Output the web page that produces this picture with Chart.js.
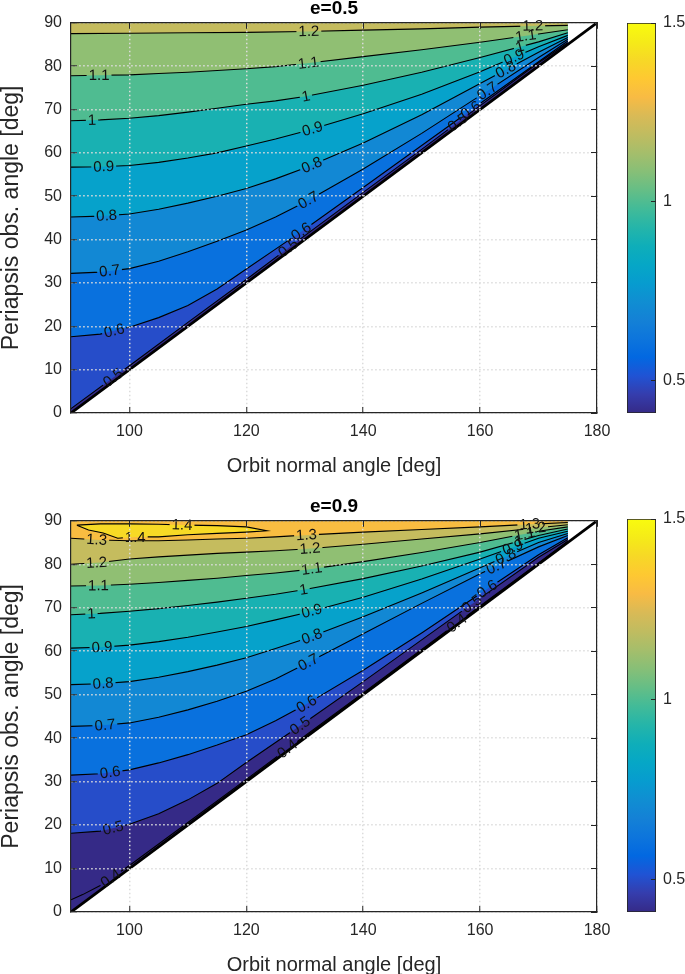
<!DOCTYPE html>
<html>
<head>
<meta charset="utf-8">
<script src="https://cdn.jsdelivr.net/npm/chart.js@4.4.1/dist/chart.umd.min.js"></script>
<style>
  body { margin: 0; background: #fff; width: 685px; height: 974px; position: relative; overflow: hidden; }
  canvas { position: absolute; }
</style>
</head>
<body>
<canvas id="panelA" width="615" height="493" style="left:0;top:-3px"></canvas>
<canvas id="barA" width="65" height="420" style="left:620px;top:0"></canvas>
<canvas id="panelB" width="615" height="494" style="left:0;top:495px"></canvas>
<canvas id="barB" width="65" height="423" style="left:620px;top:496px"></canvas>
<script>
const xTicks = [100, 120, 140, 160, 180];
const yTicks = [0, 10, 20, 30, 40, 50, 60, 70, 80, 90];
const colorTicks = [0.5, 1, 1.5];
const colorRange = [0.41, 1.5];
const diagonal = [[90, 0], [180, 90]];
const dataEdge = [[90, 0], [175, 85], [175, 90], [90, 90]];

// e = 0.5 contour lines: [orbit normal angle, periapsis obs. angle]
const e05_05 = [[90,1.0],[100,10.9],[110,20.9],[120,30.8],[130,40.9],[140,50.9],[150,60.8],[160,70.9],[170,80.8],[175,85.4]];
const e05_06 = [[90,17.6],[95,18.2],[100,19.8],[105,22.0],[110,24.8],[115,28.6],[120,33.2],[125,37.8],[130,42.4],[140,52.0],[150,61.7],[160,71.4],[170,81.0],[175,85.8]];
const e05_07 = [[90,32.2],[95,32.5],[100,33.3],[105,35.0],[110,37.2],[115,39.6],[120,42.2],[125,45.2],[130,48.6],[140,56.3],[150,64.5],[160,73.2],[170,82.0],[175,86.2]];
const e05_08 = [[90,45.2],[95,45.4],[100,45.9],[105,47.0],[110,48.4],[115,50.0],[120,51.8],[125,54.0],[130,56.5],[140,62.3],[150,68.8],[160,76.0],[170,83.2],[175,86.6]];
const e05_09 = [[90,56.7],[95,56.8],[100,57.1],[105,57.8],[110,58.8],[115,60.0],[120,61.6],[125,63.2],[130,65.0],[140,69.0],[150,73.5],[160,78.7],[170,84.5],[175,87.1]];
const e05_10 = [[90,67.4],[95,67.6],[100,68.0],[105,68.6],[110,69.4],[115,70.3],[120,71.2],[125,72.0],[130,73.0],[140,75.6],[150,78.6],[160,82.0],[170,85.6],[175,87.7]];
const e05_11 = [[90,77.8],[95,77.9],[100,78.0],[105,78.3],[110,78.6],[115,79.0],[120,79.4],[125,79.9],[130,80.6],[140,82.2],[150,83.8],[160,85.5],[170,87.4],[175,88.4]];
const e05_12 = [[90,87.5],[100,87.6],[110,87.7],[120,87.8],[130,88.0],[140,88.3],[150,88.6],[160,89.0],[170,89.3],[175,89.4]];

// e = 0.9 contour lines
const e09_04 = [[90,2.8],[92,4.0],[95,6.1],[100,10.7],[110,20.6],[120,30.5],[130,40.5],[140,50.4],[150,60.4],[160,70.4],[170,80.3],[175,85.3]];
const e09_05 = [[90,18.1],[95,18.6],[100,20.2],[105,22.6],[110,25.8],[115,29.6],[120,34.4],[125,39.0],[130,43.6],[140,53.0],[150,62.6],[160,72.2],[170,81.6],[175,85.7]];
const e09_06 = [[90,31.5],[95,31.8],[100,32.7],[105,34.3],[110,36.2],[115,38.4],[120,40.8],[125,44.0],[130,47.6],[140,55.6],[150,64.2],[160,73.2],[170,82.2],[175,86.1]];
const e09_07 = [[90,42.7],[95,42.9],[100,43.5],[105,44.8],[110,46.5],[115,48.5],[120,50.8],[125,53.6],[130,57.0],[140,64.0],[150,71.0],[160,77.8],[170,84.0],[175,86.6]];
const e09_08 = [[90,52.3],[95,52.5],[100,53.0],[105,54.0],[110,55.3],[115,56.8],[120,58.5],[125,60.6],[130,62.8],[140,67.9],[150,73.4],[160,79.2],[170,85.0],[175,87.1]];
const e09_09 = [[90,60.7],[95,60.9],[100,61.4],[105,62.2],[110,63.2],[115,64.4],[120,65.7],[125,67.2],[130,68.8],[140,72.4],[150,76.6],[160,81.2],[170,86.0],[175,87.6]];
const e09_10 = [[90,68.4],[95,68.7],[100,69.2],[105,69.8],[110,70.5],[115,71.3],[120,72.2],[125,73.1],[130,74.2],[140,76.7],[150,79.6],[160,82.8],[170,86.6],[175,88.1]];
const e09_11 = [[90,75.0],[95,75.1],[100,75.4],[105,75.8],[110,76.3],[115,76.8],[120,77.4],[125,78.0],[130,78.7],[140,80.6],[150,82.7],[160,85.0],[170,87.6],[175,88.6]];
const e09_12 = [[90,80.0],[95,80.4],[100,81.2],[105,81.7],[110,82.1],[115,82.5],[120,82.8],[125,83.1],[130,83.5],[140,84.6],[150,85.8],[160,87.0],[170,88.4],[175,89.1]];
const e09_13 = [[90,86.0],[95,85.6],[100,85.4],[105,85.4],[110,85.6],[115,85.8],[120,86.0],[125,86.3],[130,86.7],[140,87.4],[150,88.0],[160,88.6],[170,89.3],[175,89.6]];
const e09_14 = [[91,89.0],[95,89.3],[100,89.3],[105,89.2],[110,89.0],[115,88.9],[120,88.6],[123.5,87.7],[120,87.4],[115,87.1],[110,86.8],[105,86.3],[101,86.3],[98,86.0],[95.5,87.2],[93,87.9],[91,89.0]];

const e05Levels = [[0.5, e05_05], [0.6, e05_06], [0.7, e05_07], [0.8, e05_08], [0.9, e05_09], [1, e05_10], [1.1, e05_11], [1.2, e05_12]];
const e09Levels = [[0.4, e09_04], [0.5, e09_05], [0.6, e09_06], [0.7, e09_07], [0.8, e09_08], [0.9, e09_09], [1, e09_10], [1.1, e09_11], [1.2, e09_12], [1.3, e09_13], [1.4, e09_14]];

// inline labels: [level, orbit normal angle, crossing index]
const e05Labels = [[1.2,130.7],[1.2,169],[1.1,94.8],[1.1,130.6],[1.1,167.8],[1,93.6],[1,130.2],[1,166.8],
  [0.9,95.6],[0.9,131.3],[0.9,165.8],[0.8,96.1],[0.8,131.2],[0.8,164.4],[0.7,96.6],[0.7,130.6],[0.7,161.2],
  [0.6,97.4],[0.6,129.4],[0.6,158.4],[0.5,97.2],[0.5,127.2],[0.5,156.2]];
const e09Labels = [[1.4,109,0],[1.4,101,1],[1.3,94.4],[1.3,130.3],[1.3,168.5],[1.2,94.4],[1.2,130.9],[1.2,169.5],
  [1.1,94.7],[1.1,131.2],[1.1,167.6],[1,93.5],[1,129.8],[1,166.6],[0.9,95.3],[0.9,131.2],[0.9,165.6],
  [0.8,95.5],[0.8,131.2],[0.8,164.4],[0.7,95.8],[0.7,130.6],[0.7,162.8],[0.6,96.7],[0.6,130.3],[0.6,161.2],
  [0.5,97.2],[0.5,129.2],[0.5,158.6],[0.4,96.8],[0.4,127],[0.4,156]];

const FONT = "'Liberation Sans', Arial, Helvetica, sans-serif";
const axisColor = '#262626';
const gridColor = '#dcdcdc';

// parula colormap, every third entry
const parulaStops = [
  [0.2081,0.1663,0.5292],[0.2081,0.2386,0.6771],[0.1253,0.3242,0.8303],[0.0060,0.4086,0.8828],
  [0.0498,0.4586,0.8641],[0.0779,0.5040,0.8384],[0.0641,0.5570,0.8240],[0.0265,0.6137,0.8135],
  [0.0228,0.6535,0.7768],[0.0590,0.6838,0.7254],[0.1453,0.7098,0.6646],[0.2586,0.7317,0.5954],
  [0.3953,0.7459,0.5244],[0.5300,0.7491,0.4661],[0.6473,0.7456,0.4188],[0.7525,0.7384,0.3768],
  [0.8507,0.7299,0.3360],[0.9739,0.7314,0.2666],[0.9955,0.7861,0.1967],[0.9697,0.8481,0.1475],
  [0.9598,0.9218,0.0948],[0.9763,0.9831,0.0538]];

function parula(t) {
  t = Math.min(1, Math.max(0, t));
  const n = parulaStops.length;
  const f = t * (n - 1), i = Math.min(Math.floor(f), n - 2), u = f - i;
  const c = parulaStops[i].map((v, k) => Math.round(255 * (v + (parulaStops[i + 1][k] - v) * u)));
  return 'rgb(' + c.join(',') + ')';
}
const levelColor = v => parula((v - colorRange[0]) / (colorRange[1] - colorRange[0]));
const xy = pts => pts.map(p => ({ x: p[0], y: p[1] }));

function buildDatasets(levels) {
  const sets = [{ data: xy(dataEdge), fill: 'shape', backgroundColor: levelColor(colorRange[0]),
    borderColor: 'transparent', pointRadius: 0, order: 1000 }];
  levels.forEach(([level, pts], i) => {
    const last = pts[pts.length - 1];
    const closed = pts[0][0] === last[0] && pts[0][1] === last[1];
    const outline = closed ? pts : pts.concat([dataEdge[2], dataEdge[3]]);
    sets.push({ data: xy(outline), fill: 'shape', backgroundColor: levelColor(level),
      borderColor: 'transparent', pointRadius: 0, order: 500 - i });
    sets.push({ data: xy(pts), isoLine: true, level: level, borderColor: '#000', borderWidth: 1.1,
      pointRadius: 0, fill: false, order: 2 });
  });
  sets.push({ data: xy(diagonal), borderColor: '#000', borderWidth: 2.8, pointRadius: 0, fill: false, order: 1 });
  return sets;
}

function labelPlugin(levels, spots) {
  const place = chart => {
    const xs = chart.scales.x, ys = chart.scales.y, ctx = chart.ctx;
    ctx.font = '15px ' + FONT;
    return spots.map(([level, x, branch = 0]) => {
      const pts = levels.find(l => l[0] === level)[1];
      let hit = 0;
      for (let i = 0; i < pts.length - 1; i++) {
        const a = pts[i], b = pts[i + 1];
        if (a[0] === b[0] || (x - a[0]) * (x - b[0]) > 0) continue;
        if (hit++ < branch) continue;
        const y = a[1] + (x - a[0]) / (b[0] - a[0]) * (b[1] - a[1]);
        let ang = Math.atan2(ys.getPixelForValue(b[1]) - ys.getPixelForValue(a[1]),
                             xs.getPixelForValue(b[0]) - xs.getPixelForValue(a[0]));
        if (ang > Math.PI / 2) ang -= Math.PI;
        if (ang < -Math.PI / 2) ang += Math.PI;
        const text = String(level);
        return { level, text, px: xs.getPixelForValue(x), py: ys.getPixelForValue(y), ang,
                 w: ctx.measureText(text).width + 4, h: 13 };
      }
      return null;
    }).filter(Boolean);
  };
  return {
    id: 'contourLabels',
    beforeDatasetsDraw(chart) { chart.$labels = place(chart); },
    beforeDatasetDraw(chart, args) {
      const ds = chart.data.datasets[args.index];
      if (!ds.isoLine) return;
      const ctx = chart.ctx;
      ctx.save();
      ctx.beginPath();
      ctx.rect(0, 0, chart.width, chart.height);
      chart.$labels.filter(l => l.level === ds.level).forEach(l => {
        const c = Math.cos(l.ang), s = Math.sin(l.ang);
        [[-1, -1], [1, -1], [1, 1], [-1, 1]].forEach(([u, v], k) => {
          const px = l.px + u * l.w / 2 * c - v * l.h / 2 * s;
          const py = l.py + u * l.w / 2 * s + v * l.h / 2 * c;
          if (k) ctx.lineTo(px, py); else ctx.moveTo(px, py);
        });
        ctx.closePath();
      });
      ctx.clip('evenodd');
    },
    afterDatasetDraw(chart, args) {
      if (chart.data.datasets[args.index].isoLine) chart.ctx.restore();
    },
    afterDatasetsDraw(chart) {
      const ctx = chart.ctx;
      ctx.save();
      ctx.font = '15px ' + FONT;
      ctx.fillStyle = '#111';
      ctx.textAlign = 'center';
      ctx.textBaseline = 'middle';
      chart.$labels.forEach(l => {
        ctx.save();
        ctx.translate(l.px, l.py);
        ctx.rotate(l.ang);
        ctx.fillText(l.text, 0, 0.5);
        ctx.restore();
      });
      ctx.restore();
    }
  };
}

const tickList = arr => scale => { scale.ticks = arr.map(v => ({ value: v })); };
const fixHeight = h => s => { s.height = h; s.paddingLeft = 0; s.paddingRight = 0; };
const fixWidth = w => s => { s.width = w; s.paddingTop = 0; s.paddingBottom = 0; };

function makePanel(id, title, levels, spots) {
  const edgeGrid = { drawOnChartArea: false, tickLength: -6, tickColor: axisColor, tickWidth: 1, z: 1 };
  const border = { color: axisColor, width: 1.2, z: 2 };
  new Chart(document.getElementById(id), {
    type: 'line',
    data: { datasets: buildDatasets(levels) },
    plugins: [labelPlugin(levels, spots)],
    options: {
      responsive: false,
      animation: false,
      events: [],
      layout: { padding: { left: 0, right: 18, top: 0, bottom: 0 } },
      plugins: {
        legend: { display: false },
        tooltip: { enabled: false },
        title: { display: true, text: title, fullSize: false, color: '#000',
                 font: { family: FONT, size: 19, weight: 'bold' }, padding: { top: 0, bottom: 3 } }
      },
      scales: {
        x: {
          type: 'linear', position: 'bottom', min: 90, max: 180,
          afterBuildTicks: tickList(xTicks),
          afterFit: fixHeight(77),
          grid: { color: gridColor, lineWidth: 1.5, tickLength: -6, tickColor: axisColor, tickWidth: 1, z: 1 },
          border: { color: axisColor, width: 1.2, dash: [1.5, 2.5], z: 2 },
          ticks: { color: axisColor, padding: 15, maxRotation: 0, font: { family: FONT, size: 16 } },
          title: { display: true, text: 'Orbit normal angle [deg]', color: axisColor,
                   font: { family: FONT, size: 20 }, padding: { top: 0, bottom: 12 } }
        },
        y: {
          type: 'linear', position: 'left', min: 0, max: 90,
          afterBuildTicks: tickList(yTicks),
          afterFit: fixWidth(71),
          grid: { color: gridColor, lineWidth: 1.5, tickLength: -6, tickColor: axisColor, tickWidth: 1, z: 1 },
          border: { color: axisColor, width: 1.2, dash: [1.5, 2.5], z: 2 },
          ticks: { color: axisColor, padding: 15, font: { family: FONT, size: 16 } },
          title: { display: true, text: 'Periapsis obs. angle [deg]', color: axisColor,
                   font: { family: FONT, size: 23, lineHeight: 1.05 }, padding: { top: 0, bottom: 0 } }
        },
        x2: {
          type: 'linear', position: 'top', min: 90, max: 180,
          afterBuildTicks: tickList(xTicks),
          afterFit: fixHeight(0),
          grid: edgeGrid, border: border, ticks: { display: false }
        },
        y2: {
          type: 'linear', position: 'right', min: 0, max: 90,
          afterBuildTicks: tickList(yTicks),
          afterFit: fixWidth(0),
          grid: edgeGrid, border: border, ticks: { display: false }
        }
      }
    }
  });
}

function makeColorbar(id) {
  new Chart(document.getElementById(id), {
    type: 'bar',
    data: {
      labels: [''],
      datasets: [{
        data: [colorRange],
        backgroundColor: c => {
          const area = c.chart.chartArea;
          if (!area) return levelColor(1);
          const g = c.chart.ctx.createLinearGradient(0, area.bottom, 0, area.top);
          parulaStops.forEach((_, i) => g.addColorStop(i / (parulaStops.length - 1), parula(i / (parulaStops.length - 1))));
          return g;
        },
        borderColor: axisColor, borderWidth: 1.2, borderSkipped: false,
        barPercentage: 1, categoryPercentage: 1
      }]
    },
    options: {
      responsive: false,
      animation: false,
      events: [],
      layout: { padding: { left: 7, right: 0, top: 23, bottom: 7 } },
      plugins: { legend: { display: false }, tooltip: { enabled: false } },
      scales: {
        x: { display: false },
        y: {
          position: 'right', min: colorRange[0], max: colorRange[1],
          afterBuildTicks: tickList(colorTicks),
          afterFit: fixWidth(29),
          grid: { drawOnChartArea: false, tickLength: -5, tickColor: axisColor, z: 1 },
          border: { display: false },
          ticks: { color: axisColor, padding: 12, font: { family: FONT, size: 16 }, callback: v => String(v) }
        }
      }
    }
  });
}

makePanel('panelA', 'e=0.5', e05Levels, e05Labels);
makePanel('panelB', 'e=0.9', e09Levels, e09Labels);
makeColorbar('barA');
makeColorbar('barB');
</script>
</body>
</html>
